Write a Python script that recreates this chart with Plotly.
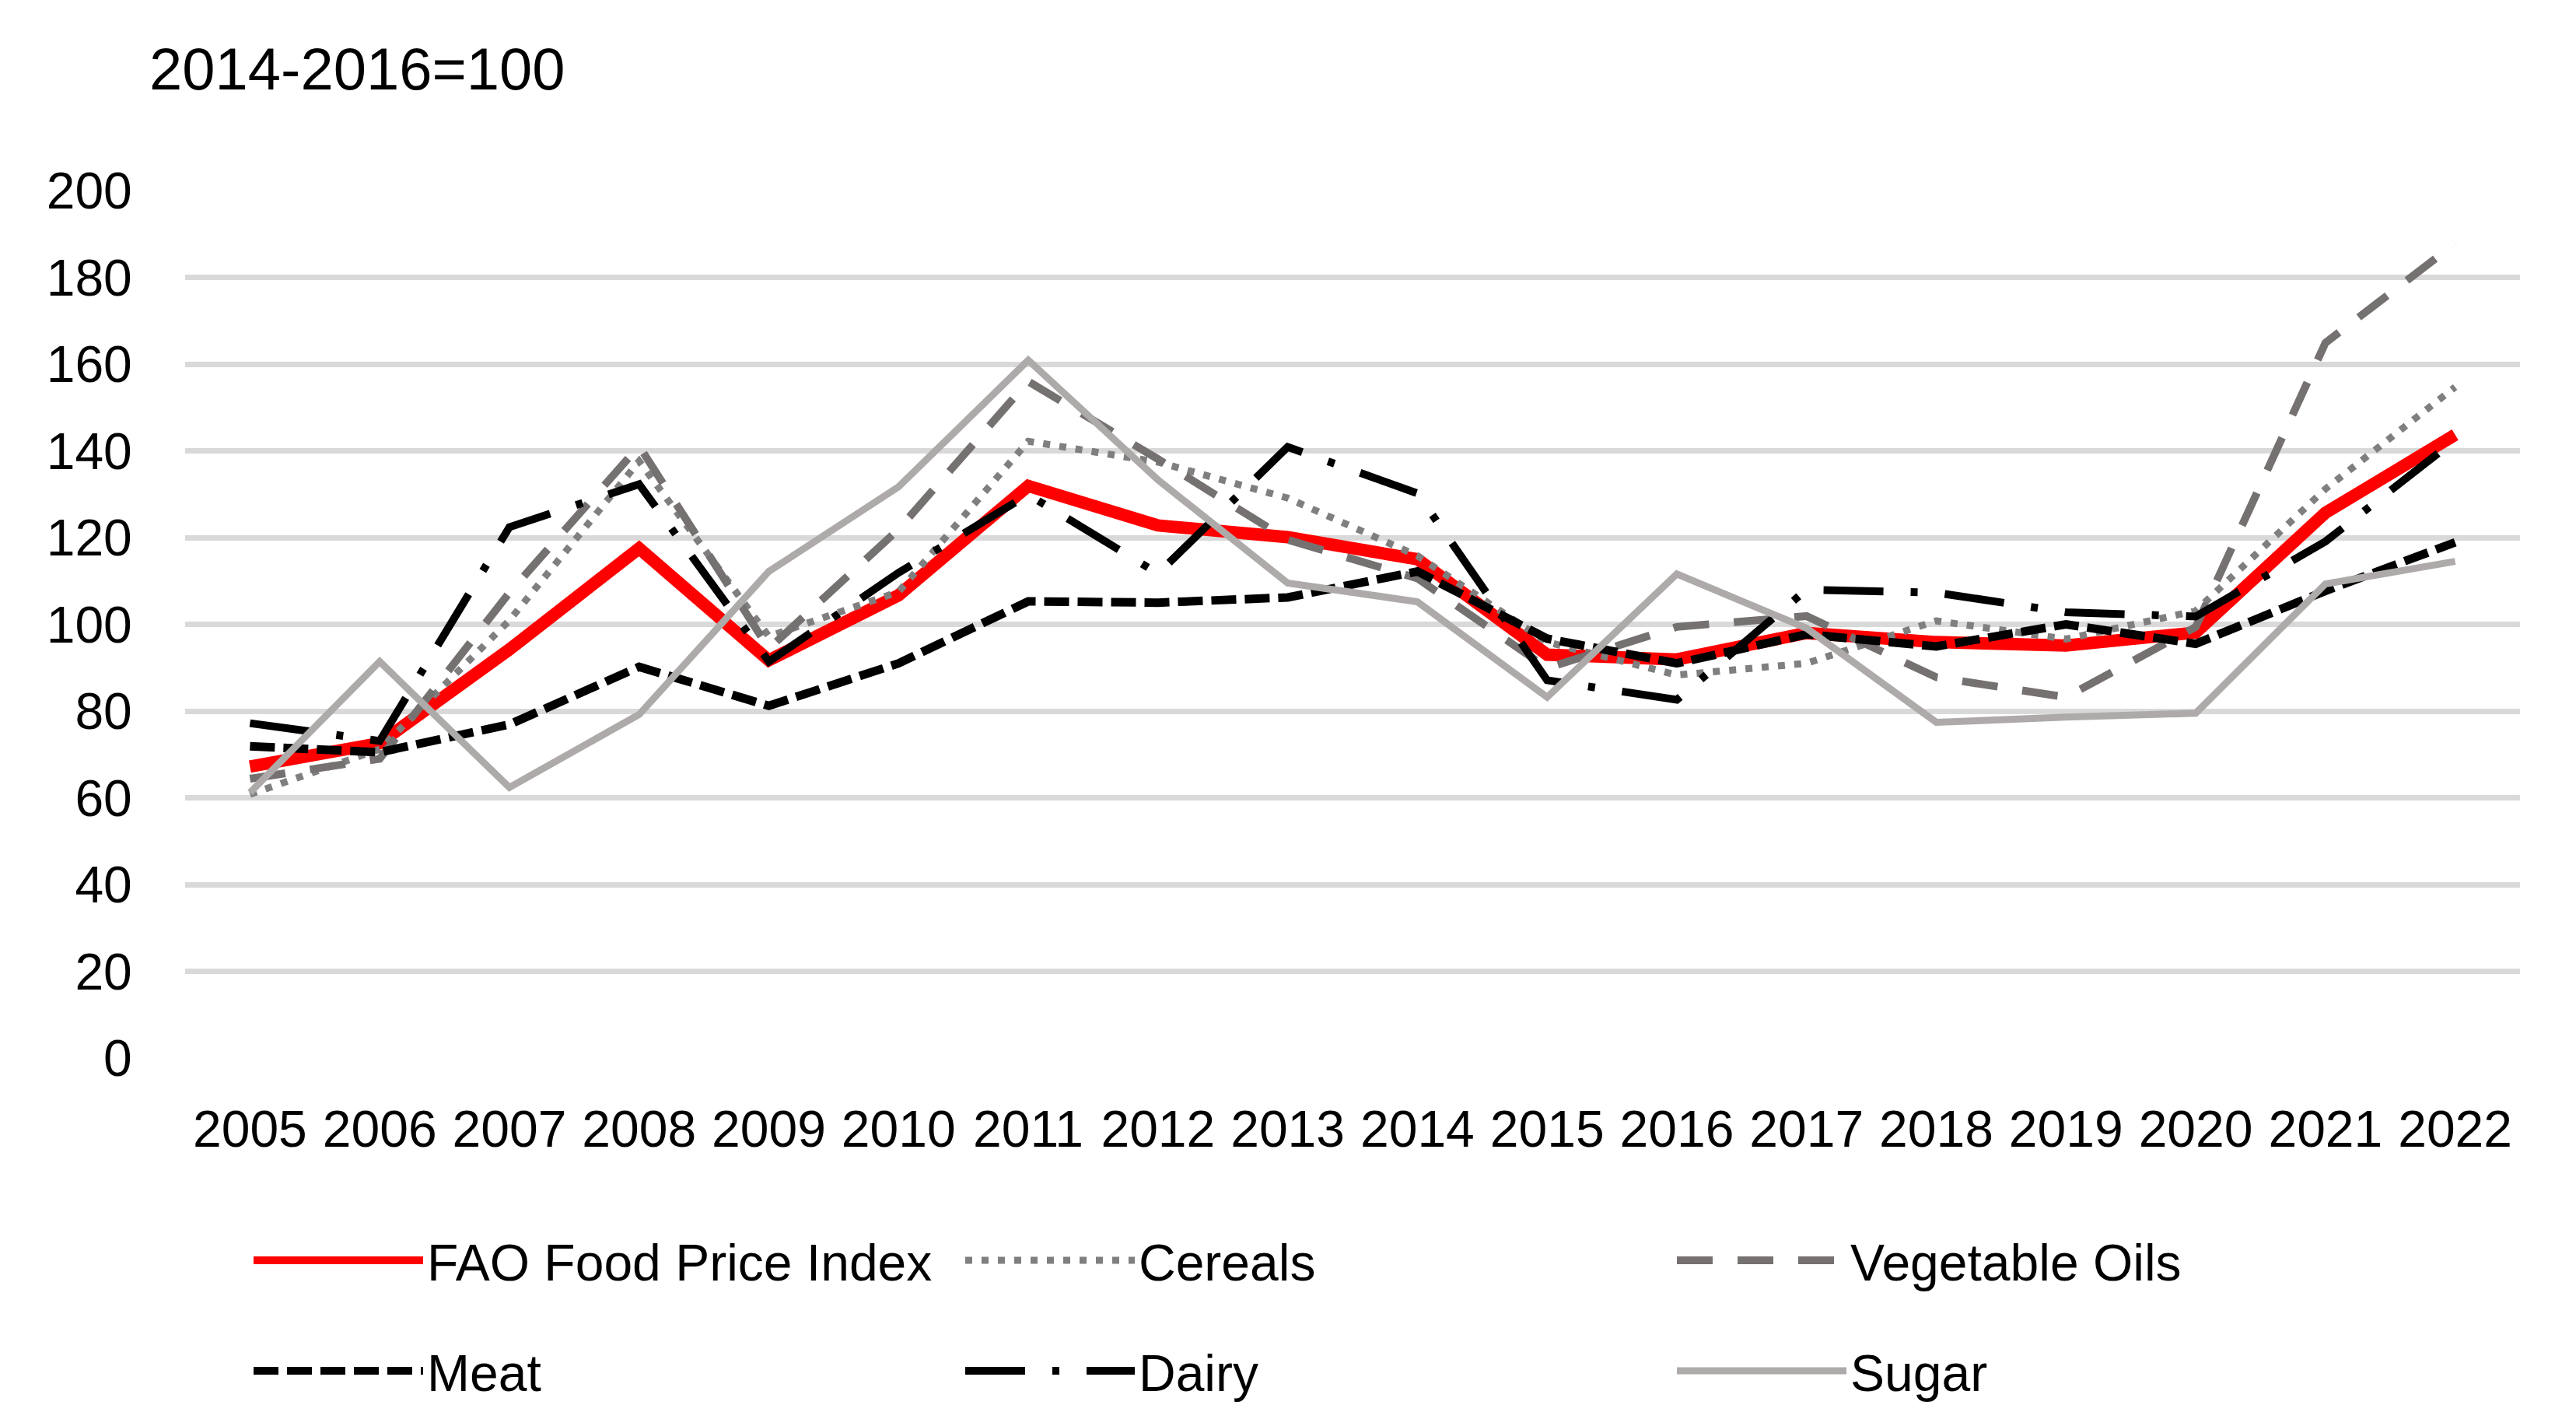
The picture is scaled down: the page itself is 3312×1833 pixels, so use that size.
import plotly.graph_objects as go

years = [str(y) for y in range(2005, 2023)]

fao_food_price_index = [67.2, 72.6, 94.2, 117.5, 91.7, 106.7, 131.9, 122.8, 120.1, 115.0,
                        93.0, 91.9, 98.0, 95.9, 95.1, 98.1, 125.7, 143.7]
cereals = [60.8, 71.2, 100.9, 137.6, 97.2, 107.5, 142.2, 137.4, 129.1, 115.8,
           95.9, 88.3, 91.0, 100.8, 96.6, 103.1, 131.2, 154.7]
vegetable_oils = [64.4, 69.0, 107.3, 141.1, 94.4, 121.9, 156.0, 138.1, 119.5, 110.6,
                  89.9, 99.4, 101.9, 87.8, 83.2, 99.4, 164.9, 187.8]
meat = [71.9, 70.5, 76.9, 90.2, 81.2, 91.0, 105.3, 105.0, 106.2, 112.2,
        96.7, 91.0, 97.7, 94.9, 100.0, 95.5, 107.7, 118.9]
dairy = [77.2, 73.1, 122.4, 132.3, 91.4, 111.9, 129.9, 111.7, 140.9, 130.2,
         87.1, 82.6, 108.0, 107.3, 102.8, 101.8, 119.1, 142.5]
sugar = [61.2, 91.4, 62.4, 79.2, 112.2, 131.7, 160.9, 133.3, 109.5, 105.2,
         83.2, 111.6, 99.1, 77.4, 78.6, 79.5, 109.3, 114.5]

y_ticks = [0, 20, 40, 60, 80, 100, 120, 140, 160, 180, 200]

FONT = "Liberation Sans, Arial, sans-serif"

series = [
    ("FAO Food Price Index", fao_food_price_index, "#FF0000", 16, "solid", "legend"),
    ("Cereals", cereals, "#7F7F7F", 9, "9px,12px", "legend"),
    ("Vegetable Oils", vegetable_oils, "#767171", 10, "46px,32px", "legend"),
    ("Meat", meat, "#000000", 11, "32px,11px", "legend2"),
    ("Dairy", dairy, "#000000", 10, "77px,35px,9px,35px", "legend2"),
    ("Sugar", sugar, "#AEAAAA", 9, "solid", "legend2"),
]

fig = go.Figure()
for name, vals, color, width, dash, leg in series:
    fig.add_trace(go.Scatter(
        x=years, y=vals, name=name, mode="lines",
        line=dict(color=color, width=width, dash=dash),
        legend=leg,
    ))

W, H = 3312, 1833
L, R, T, B = 238, 72, 245, 473

legend_common = dict(
    orientation="h",
    xref="container", yref="container",
    xanchor="left", yanchor="middle",
    font=dict(family=FONT, size=66, color="#000000"),
    itemwidth=218,
    entrywidth=682,
    bgcolor="rgba(0,0,0,0)",
    traceorder="normal",
)

fig.update_layout(
    width=W, height=H,
    margin=dict(l=L, r=R, t=T, b=B, pad=0),
    paper_bgcolor="white", plot_bgcolor="white",
    font=dict(family=FONT, size=66, color="#000000"),
    showlegend=True,
    legend=dict(x=321 / W, y=1 - 1620 / H, **legend_common),
    legend2=dict(x=321 / W, y=1 - 1762 / H, **legend_common),
    xaxis=dict(
        type="category", range=[-0.5, 17.5],
        showgrid=False, zeroline=False, showline=False,
        ticks="outside", ticklen=34, tickcolor="rgba(0,0,0,0)",
        tickangle=0,
        tickfont=dict(family=FONT, size=66, color="#000000"),
    ),
    yaxis=dict(
        range=[0, 200], tickvals=y_ticks,
        showgrid=True, gridcolor="#D9D9D9", gridwidth=7,
        zeroline=False, showline=False,
        ticks="outside", ticklen=54, tickcolor="rgba(0,0,0,0)",
        tickfont=dict(family=FONT, size=66, color="#000000"),
    ),
    annotations=[dict(
        text="2014-2016=100", xref="paper", yref="paper",
        x=-48 / (W - L - R), y=(1360 - 89) / (1360 - 245),
        xanchor="left", yanchor="middle", showarrow=False,
        font=dict(family=FONT, size=76, color="#000000"),
    )],
)

fig.write_html("out.html", config={"displayModeBar": False},
               post_script="document.body.style.margin='0';")
